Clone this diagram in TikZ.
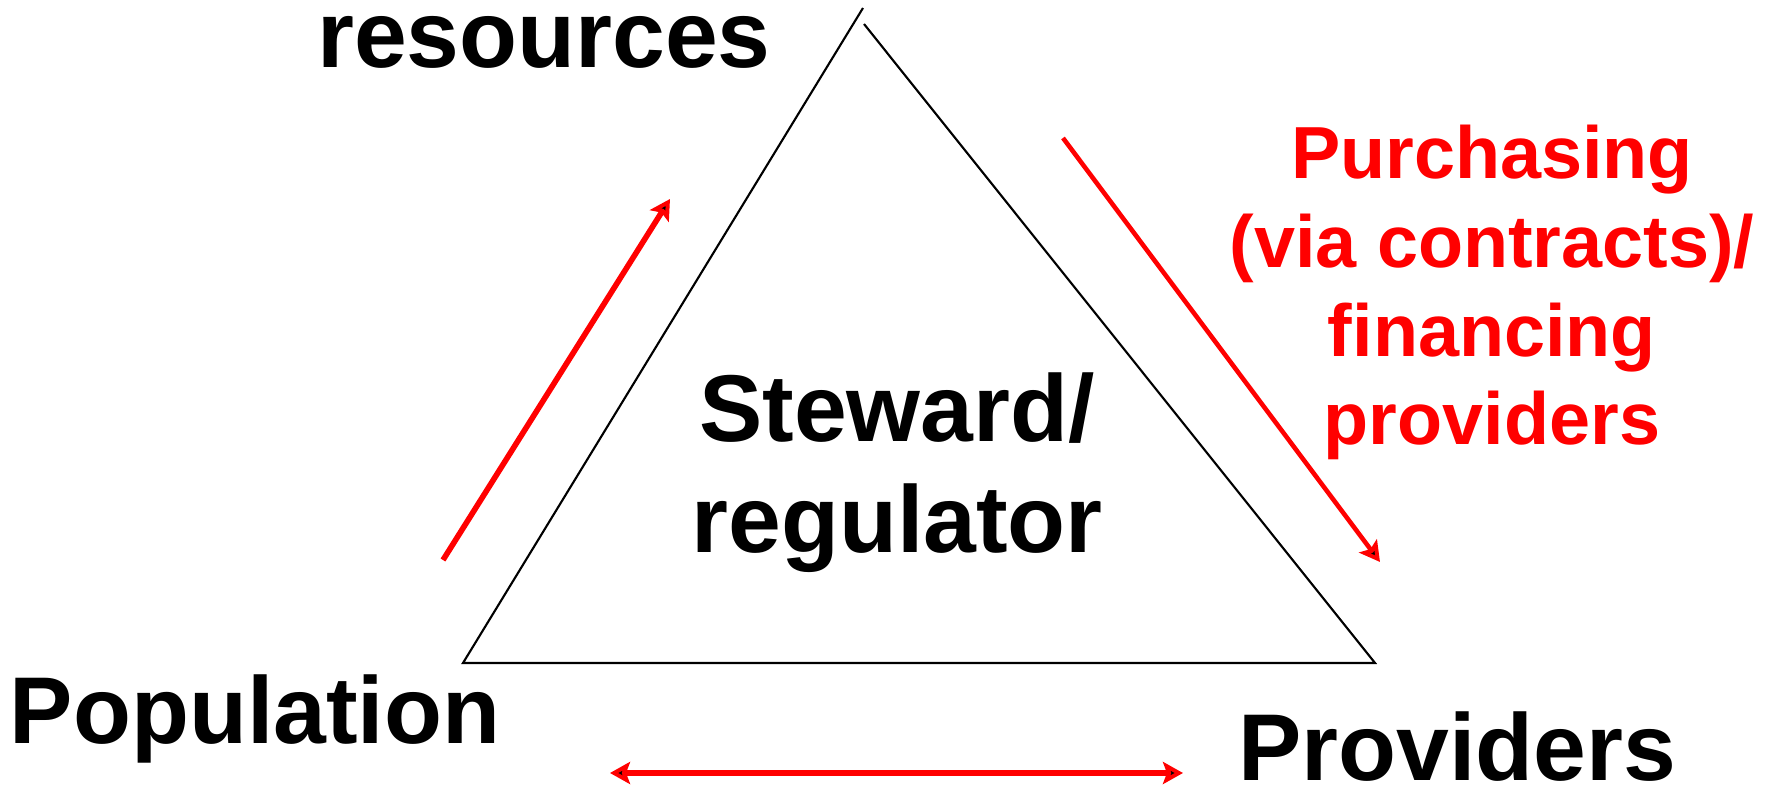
\documentclass[tikz,border=0pt]{standalone}
\usepackage{fontspec}
\setmainfont{Liberation Sans}
\usetikzlibrary{arrows.meta}

\begin{document}
\begin{tikzpicture}[x=0.1mm, y=-0.1mm,
  >={Stealth[length=2mm, width=2.2mm, inset=0.4mm]},
  big/.style={font=\bfseries\fontsize{27}{31.6}\selectfont, anchor=base, align=center},
  redtext/.style={font=\bfseries\fontsize{21}{25.3}\selectfont, text=red, anchor=base, align=center},
  side/.style={draw=black, line width=0.6pt},
  flow/.style={draw=red, line width=1.6pt}
  ]
  \useasboundingbox (0,0) rectangle (1778,788);
  % corners of the triangle
  \coordinate (topl) at (863,8);
  \coordinate (topr) at (864,24);
  \coordinate (botl) at (463,663);
  \coordinate (botr) at (1375,663);
  \draw[side] (topl) -- (botl) -- (botr) -- (topr);

  \node[big] (res) at (544,68) {resources};
  \node[big] (pop) at (255,744) {Population};
  \node[big] (prov) at (1457,781) {Providers};
  \node[big] (stew) at (897,553) {Steward/\\regulator};
  \node[redtext] (purch) at (1492,445) {Purchasing\\(via contracts)/\\financing\\providers};

  % red flows
  \coordinate (popout) at (443,560);
  \coordinate (resin) at (670,199);
  \coordinate (purout) at (1063,138);
  \coordinate (provin) at (1380,562);
  \coordinate (popend) at (610,773);
  \coordinate (provend) at (1183,773);
  \path[flow]
    (popout) edge[->] (resin)
    (purout) edge[->, line width=1.3pt] (provin)
    (popend) edge[<->, line width=1.9pt] (provend);
\end{tikzpicture}
\end{document}
